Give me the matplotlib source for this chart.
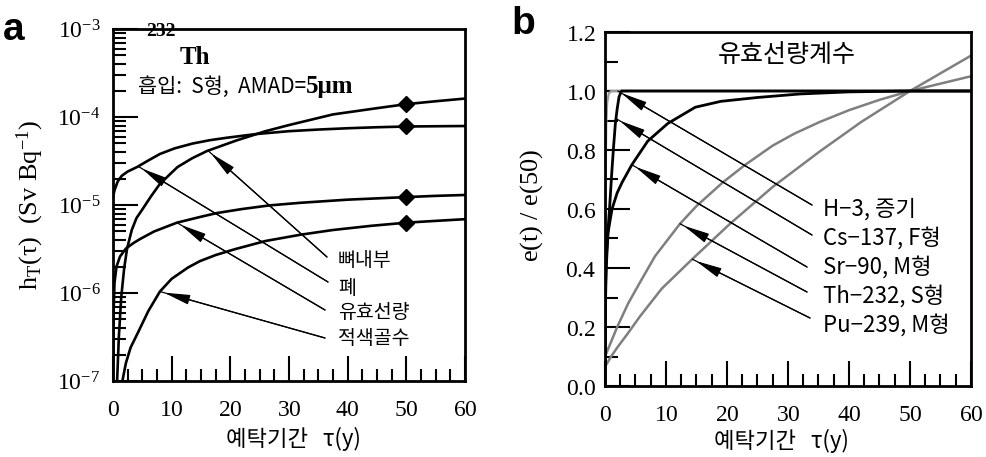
import matplotlib
matplotlib.use('Agg')
import matplotlib.pyplot as plt
from matplotlib.ticker import MultipleLocator, LogLocator, FuncFormatter, NullFormatter
import numpy as np

plt.rcParams['font.family'] = ['Noto Sans CJK KR', 'DejaVu Sans']
plt.rcParams['mathtext.fontset'] = 'custom'
plt.rcParams['mathtext.rm'] = 'Liberation Serif'
plt.rcParams['mathtext.it'] = 'Liberation Serif:italic'
plt.rcParams['mathtext.bf'] = 'Liberation Serif:bold'

# (a) Th-232 흡입 (S형, AMAD 5um) 장기별 h_T(tau), Sv/Bq
tau_bone = [0.7, 1.0, 1.4, 1.9, 2.4, 3.2, 4.0, 5.0, 6.5, 8.0, 11, 13.5, 16, 21, 26, 30, 37.5, 45, 50, 55, 60]
h_bone = [1.0e-7, 3.2e-7, 8.9e-7, 1.9e-6, 3.2e-6, 5.2e-6, 7.1e-6, 8.9e-6, 1.26e-5, 1.74e-5, 2.7e-5,
          3.4e-5, 4.1e-5, 5.4e-5, 6.9e-5, 8.1e-5, 1.07e-4, 1.26e-4, 1.4e-4, 1.51e-4, 1.62e-4]

tau_lung = [0, 0.3, 0.8, 1.5, 2.5, 4.1, 6, 8, 10.5, 13.6, 16.5, 19.3, 24.4, 30, 35, 40, 45, 50, 55, 60]
h_lung = [1.25e-5, 1.5e-5, 1.85e-5, 2.15e-5, 2.4e-5, 2.7e-5, 3.2e-5, 3.8e-5, 4.4e-5, 5.0e-5, 5.45e-5,
          5.8e-5, 6.4e-5, 6.9e-5, 7.2e-5, 7.45e-5, 7.65e-5, 7.8e-5, 7.85e-5, 7.9e-5]

tau_eff = [0.03, 0.1, 0.25, 0.6, 1.2, 2.2, 3.5, 4.6, 7, 10.9, 14.8, 17.7, 22, 26.7, 32, 40, 50, 55, 60]
h_eff = [1e-7, 6e-7, 1.3e-6, 2.0e-6, 2.6e-6, 3.2e-6, 3.7e-6, 4.1e-6, 5.0e-6, 6.3e-6, 7.3e-6, 8.1e-6,
         9.0e-6, 9.9e-6, 1.06e-5, 1.15e-5, 1.23e-5, 1.27e-5, 1.3e-5]

tau_marrow = [1.6, 2.2, 3.0, 4.3, 6, 8, 10, 12.8, 14.8, 17.5, 20.8, 26, 32, 37.5, 44, 50, 55, 60]
h_marrow = [1e-7, 1.6e-7, 2.4e-7, 3.6e-7, 6.2e-7, 1.04e-6, 1.45e-6, 1.95e-6, 2.3e-6, 2.7e-6, 3.15e-6,
            3.9e-6, 4.6e-6, 5.2e-6, 5.8e-6, 6.3e-6, 6.6e-6, 6.9e-6]

organs = ['뼈내부', '폐', '유효선량', '적색골수']

# (b) 유효선량계수 e(t)/e(50)
tau_h3 = [0, 0.05, 0.1, 0.2, 0.35, 0.6, 1.0, 60]
e_h3 = [0, 0.45, 0.7, 0.88, 0.96, 0.99, 1.0, 1.0]

tau_cs = [0, 0.03, 0.1, 0.25, 0.5, 0.8, 1.1, 1.4, 1.7, 2.0, 2.3, 2.7, 60]
e_cs = [0, 0.2, 0.35, 0.45, 0.53, 0.62, 0.72, 0.81, 0.89, 0.94, 0.98, 1.0, 1.0]

tau_sr = [0, 0.05, 0.2, 0.5, 1.15, 2.0, 2.8, 4.4, 7, 10.3, 14.8, 19, 25, 32, 40, 50, 60]
e_sr = [0.0, 0.25, 0.40, 0.52, 0.60, 0.655, 0.69, 0.75, 0.83, 0.89, 0.945, 0.965, 0.978, 0.99, 0.997, 1.0, 1.0]

tau_th = [0, 1, 2, 3.8, 5.7, 8.2, 12.3, 15, 19.3, 23, 27.5, 31, 35.2, 40, 45, 50, 55, 60]
e_th = [0.10, 0.15, 0.20, 0.28, 0.35, 0.44, 0.55, 0.61, 0.69, 0.75, 0.815, 0.855, 0.895, 0.935, 0.97, 1.0, 1.025, 1.05]

tau_pu = [0, 1, 2, 3.8, 5.7, 9.3, 14.3, 20.5, 27.5, 35.2, 42, 50, 55, 60]
e_pu = [0.065, 0.10, 0.13, 0.18, 0.235, 0.33, 0.43, 0.55, 0.675, 0.795, 0.895, 1.0, 1.06, 1.12]

nuclides = ['H−3, 증기', 'Cs−137, F형', 'Sr−90, M형', 'Th−232, S형', 'Pu−239, M형']

W, H = 987, 457
fig = plt.figure(figsize=(W / 100, H / 100), dpi=100)


def fpx(x, y):
    return x / W, 1 - y / H


def style_axes(ax):
    for s in ax.spines.values():
        s.set_linewidth(2)
    ax.tick_params(which='both', direction='in', top=False, right=False, width=1.5)
    ax.tick_params(which='major', length=18, labelsize=17)
    ax.tick_params(which='minor', length=9)
    ax.tick_params(axis='x', pad=12)
    ax.xaxis.set_major_locator(MultipleLocator(10))
    ax.xaxis.set_minor_locator(MultipleLocator(2.5))
    ax.xaxis.set_major_formatter(FuncFormatter(lambda v, p: r'$\mathrm{%d}$' % v))
    ax.set_xlim(0, 60)


def arrow(ax, tip, start_px):
    start = (start_px[0], H - start_px[1])
    ax.annotate('', xy=tip, xytext=start, textcoords='figure pixels',
                arrowprops=dict(arrowstyle='-', lw=0.9, color='k', shrinkA=0, shrinkB=0))
    ax.annotate('', xy=tip, xytext=start, textcoords='figure pixels',
                arrowprops=dict(arrowstyle='-|>,head_length=1.6,head_width=0.3', mutation_scale=10,
                                lw=0.9, color='k', shrinkA=0, shrinkB=3))


# ---- a ----
ax = fig.add_axes([113 / W, 1 - 381 / H, 352 / W, 352 / H])
style_axes(ax)
ax.set_yscale('log')
ax.set_ylim(1e-7, 1e-3)
ax.yaxis.set_major_locator(LogLocator(base=10))
ax.yaxis.set_minor_locator(LogLocator(base=10, subs=np.arange(2, 10)))
ax.yaxis.set_major_formatter(FuncFormatter(lambda v, p: r'$\mathrm{10^{%d}}$' % round(np.log10(v))))
ax.yaxis.set_minor_formatter(NullFormatter())
ax.tick_params(axis='y', pad=9)

series_a = [(tau_bone, h_bone), (tau_lung, h_lung), (tau_eff, h_eff), (tau_marrow, h_marrow)]
for t, h in series_a:
    ax.plot(t, h, color='k', lw=1.9, marker='D', ms=8, markevery=[t.index(50)])

tips_a = [16.2, 4.3, 10.9, 8.0]
starts_a = [(327, 257), (328, 282), (325, 310), (325, 338)]
label_y_a = [260, 288, 313, 338]
for (t, h), tt, st, name, ly in zip(series_a, tips_a, starts_a, organs, label_y_a):
    tip = (tt, 10 ** np.interp(tt, t, np.log10(h)))
    arrow(ax, tip, st)
    fig.text(*fpx(338, ly), name, fontsize=14, va='center', ha='left')

ax.set_ylabel(r'$\mathrm{h_T(\tau)\ \ (Sv\ Bq^{-1})}$', fontsize=19)
ax.yaxis.set_label_coords(-0.19, 0.5)
ax.set_xlabel('예탁기간   τ(y)', fontsize=16)
ax.xaxis.set_label_coords(0.514, -0.13)

fig.text(*fpx(146, 31), '232', fontsize=14, fontweight='bold', family='Liberation Serif', va='center')
fig.text(*fpx(180, 57), 'Th', fontsize=18, fontweight='bold', family='Liberation Serif', va='center')
t1 = fig.text(*fpx(138, 87), '흡입:  S형,  AMAD=', fontsize=15, va='center')
ax.annotate('5μm', xy=(1, 0.5), xycoords=t1, va='center', ha='left', fontsize=18,
            fontweight='bold', family='Liberation Serif')

fig.text(*fpx(14, 30), 'a', fontsize=28, fontweight='bold', family='Liberation Sans', ha='center', va='center')

# ---- b ----
bx = fig.add_axes([605 / W, 1 - 386 / H, 366 / W, 354 / H])
style_axes(bx)
bx.set_ylim(0, 1.2)
bx.yaxis.set_major_locator(MultipleLocator(0.2))
bx.yaxis.set_minor_locator(MultipleLocator(0.1))
bx.yaxis.set_major_formatter(FuncFormatter(lambda v, p: r'$\mathrm{%.1f}$' % v))
bx.tick_params(axis='y', pad=6)

bx.axhline(1.0, color='k', lw=1.6)
bx.plot(tau_h3, e_h3, color='#9a9a9a', lw=1.6)
bx.plot(tau_th, e_th, color='#7f7f7f', lw=1.8)
bx.plot(tau_pu, e_pu, color='#7f7f7f', lw=1.8)
bx.plot(tau_cs, e_cs, color='k', lw=2.0)
bx.plot(tau_sr, e_sr, color='k', lw=2.0)

series_b = [(tau_h3, e_h3), (tau_cs, e_cs), (tau_sr, e_sr), (tau_th, e_th), (tau_pu, e_pu)]
tips_b = [2.1, 1.8, 4.4, 12.3, 14.3]
starts_b = [(812, 205), (812, 235), (807, 267), (807, 292), (810, 318)]
label_y_b = [209, 238, 267, 296, 325]
for (t, e), tt, st, name, ly in zip(series_b, tips_b, starts_b, nuclides, label_y_b):
    arrow(bx, (tt, np.interp(tt, t, e)), st)
    fig.text(*fpx(823, ly), name, fontsize=16, va='center', ha='left')

fig.text(*fpx(787, 55), '유효선량계수', fontsize=18, ha='center', va='center')

bx.set_ylabel(r'$\mathrm{e(t)\ /\ e(50)}$', fontsize=19)
bx.yaxis.set_label_coords(-0.165, 0.51)
bx.set_xlabel('예탁기간   τ(y)', fontsize=16)
bx.xaxis.set_label_coords(0.481, -0.12)

fig.text(*fpx(523, 24), 'b', fontsize=28, fontweight='bold', family='Liberation Sans', ha='center', va='center')

fig.savefig('out.png', dpi=100)
